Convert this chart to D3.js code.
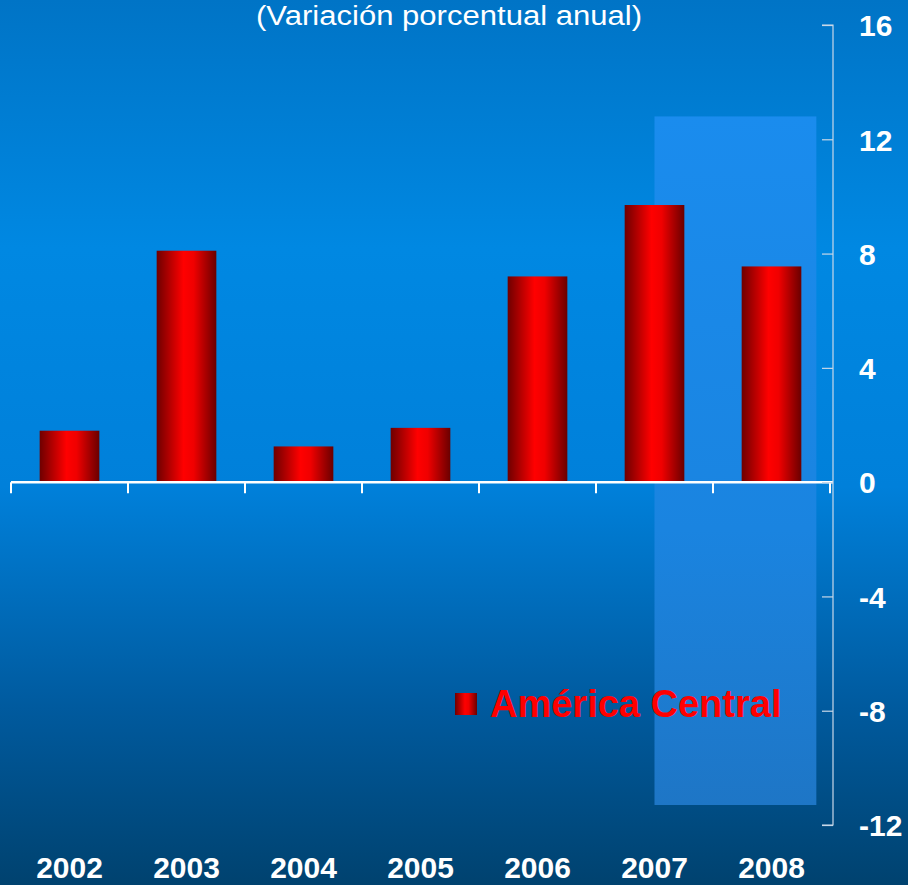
<!DOCTYPE html>
<html>
<head>
<meta charset="utf-8">
<script src="https://cdn.jsdelivr.net/npm/d3@7"></script>
<style>
  body { margin: 0; padding: 0; background: #00497f; }
  svg { display: block; }
  .tick text { font-family: "Liberation Sans", Arial, sans-serif; font-weight: bold; fill: #fff; }
</style>
</head>
<body>
<div id="chart"></div>
<script>
var svgWidth = 908;
var svgHeight = 885;

// data
var years = ["2002", "2003", "2004", "2005", "2006", "2007", "2008"];
var centralAmerica = [1.8, 8.1, 1.25, 1.9, 7.2, 9.7, 7.55];
var yTicks = [-12, -8, -4, 0, 4, 8, 12, 16];
var highlightYears = ["2007", "2008"];

var plot = { left: 11, right: 833, top: 25, bottom: 825 };

var svg = d3.select("#chart")
  .append("svg")
  .attr("width", svgWidth)
  .attr("height", svgHeight);

var defs = svg.append("defs");

// background gradient
var bg = defs.append("linearGradient")
  .attr("id", "bg").attr("x1", 0).attr("y1", 0).attr("x2", 0).attr("y2", 1);
bg.append("stop").attr("offset", "0%").attr("stop-color", "#0074c6");
bg.append("stop").attr("offset", "28%").attr("stop-color", "#0088e2");
bg.append("stop").attr("offset", "55%").attr("stop-color", "#0080da");
bg.append("stop").attr("offset", "80%").attr("stop-color", "#005a9e");
bg.append("stop").attr("offset", "100%").attr("stop-color", "#00426f");

// highlight band gradient
var hl = defs.append("linearGradient")
  .attr("id", "hl").attr("x1", 0).attr("y1", 0).attr("x2", 0).attr("y2", 1);
hl.append("stop").attr("offset", "0%").attr("stop-color", "#1a8cee");
hl.append("stop").attr("offset", "60%").attr("stop-color", "#1a84e0");
hl.append("stop").attr("offset", "100%").attr("stop-color", "#1e76c6");

// bar gradient, dark edges with a bright centre
var bar = defs.append("linearGradient")
  .attr("id", "bar").attr("x1", 0).attr("y1", 0).attr("x2", 1).attr("y2", 0);
bar.append("stop").attr("offset", "0%").attr("stop-color", "#6e0000");
bar.append("stop").attr("offset", "45%").attr("stop-color", "#ff0000");
bar.append("stop").attr("offset", "62%").attr("stop-color", "#f00000");
bar.append("stop").attr("offset", "100%").attr("stop-color", "#6a0000");

svg.append("rect")
  .attr("width", svgWidth)
  .attr("height", svgHeight)
  .attr("fill", "url(#bg)");

// Create scale functions
var xScale = d3.scaleBand()
  .domain(years)
  .range([plot.left, plot.right - 3])
  .paddingInner(0.49)
  .paddingOuter(0.245);

var yScale = d3.scaleLinear()
  .domain([-12, 16])
  .range([plot.bottom, plot.top]);

// highlighted period (from mid 2007 bar to just right of 2008 bar)
var hlLeft = xScale(highlightYears[0]) + xScale.bandwidth() / 2;
var hlRight = xScale(highlightYears[1]) + xScale.bandwidth() + 15;
svg.append("rect")
  .attr("x", hlLeft)
  .attr("y", yScale(12.8))
  .attr("width", hlRight - hlLeft)
  .attr("height", yScale(-11.3) - yScale(12.8))
  .attr("fill", "url(#hl)");

// title
svg.append("text")
  .attr("x", 449)
  .attr("y", 25)
  .attr("text-anchor", "middle")
  .attr("fill", "#ffffff")
  .attr("textLength", 386)
  .attr("lengthAdjust", "spacingAndGlyphs")
  .style("font-family", "'Liberation Sans Narrow', 'Arial Narrow', 'Liberation Sans', sans-serif")
  .style("font-size", "27px")
  .text("(Variación porcentual anual)");

// bars
svg.selectAll("rect.bar")
  .data(centralAmerica)
  .enter().append("rect")
    .attr("class", "bar")
    .attr("x", function(d, i) { return xScale(years[i]); })
    .attr("y", function(d) { return yScale(Math.max(0, d)); })
    .attr("width", xScale.bandwidth())
    .attr("height", function(d) { return Math.abs(yScale(d) - yScale(0)); })
    .attr("fill", "url(#bar)");

// x axis at zero
var step = xScale.step();
var xTickPos = d3.range(years.length + 1).map(function(i) { return plot.left + i * step; });
var xAxisG = svg.append("g");
xAxisG.append("line")
  .attr("x1", plot.left).attr("x2", plot.right)
  .attr("y1", yScale(0)).attr("y2", yScale(0))
  .attr("stroke", "#ffffff").attr("stroke-width", 2.5);
xAxisG.selectAll("line.xt")
  .data(xTickPos)
  .enter().append("line")
    .attr("class", "xt")
    .attr("x1", function(d) { return d; }).attr("x2", function(d) { return d; })
    .attr("y1", yScale(0)).attr("y2", yScale(0) + 11)
    .attr("stroke", "#ffffff").attr("stroke-width", 2);

// year labels at the bottom
var bottomAxis = d3.axisBottom(xScale).tickSize(0).tickPadding(0);
var yearG = svg.append("g")
  .attr("transform", "translate(0, 878)")
  .call(bottomAxis);
yearG.select(".domain").remove();
yearG.selectAll("text").attr("dy", 0).style("font-size", "30px");

// right axis
var rightAxis = d3.axisRight(yScale)
  .tickValues(yTicks)
  .tickFormat(function(d) { return String(d); })
  .tickSize(0)
  .tickPadding(26);
var yG = svg.append("g")
  .attr("transform", "translate(" + plot.right + ",0)")
  .call(rightAxis);
yG.select(".domain")
  .attr("d", "M-11," + yScale(16) + "H0V" + yScale(-12) + "H-11")
  .attr("stroke", "#c8d8e8").attr("stroke-width", 1.2).attr("fill", "none");
yG.selectAll(".tick line")
  .attr("x1", -11).attr("x2", 0)
  .attr("stroke", "#c8d8e8").attr("stroke-width", 1.2);
yG.selectAll("text").style("font-size", "30px").attr("dy", "0.36em");

// legend
var legend = svg.append("g").attr("transform", "translate(455, 693)");
legend.append("rect")
  .attr("width", 22).attr("height", 22)
  .attr("fill", "url(#bar)");
legend.append("text")
  .attr("x", 35)
  .attr("y", 24)
  .attr("fill", "#ff0000")
  .style("font-family", "'Liberation Sans', Arial, sans-serif")
  .style("font-weight", "bold")
  .style("font-size", "38px")
  .text("América Central");
</script>
</body>
</html>
